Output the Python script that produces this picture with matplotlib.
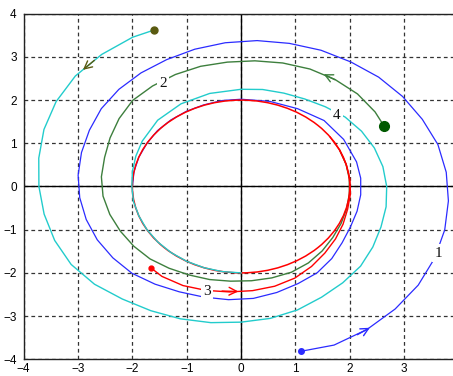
import matplotlib
matplotlib.use('Agg')
import numpy as np
import matplotlib.pyplot as plt
from matplotlib.patches import Circle

t1 = [-74, -65, -55, -45, -35, -25, -15, -5, 5, 15, 25, 35, 45, 55, 65, 75, 85, 95, 105, 115,
      125, 135, 145, 155, 165, 175, 185, 195, 205, 215, 225, 235, 245, 255, 265, 275, 285, 295,
      305, 315, 325, 335, 345, 355, 365, 375, 390, 405, 420, 435, 450, 460, 470, 480, 490, 500,
      510, 520, 530, 540]
r1 = [3.97, 4.05, 4.04, 4.01, 3.98, 3.93, 3.88, 3.83, 3.79, 3.75, 3.68, 3.63, 3.58, 3.52, 3.48,
      3.43, 3.39, 3.34, 3.29, 3.24, 3.21, 3.18, 3.14, 3.08, 3.04, 3.01, 2.98, 2.95, 2.92, 2.88,
      2.84, 2.76, 2.69, 2.65, 2.63, 2.60, 2.54, 2.48, 2.44, 2.36, 2.27, 2.22, 2.21, 2.21, 2.21,
      2.20, 2.18, 2.16, 2.08, 2.04, 2.02, 2.02, 2.01, 2.01, 2.01, 2.01, 2.00, 2.00, 2.00, 2.00]

t2 = [28, 35, 45, 55, 65, 75, 85, 95, 105, 115, 125, 135, 145, 155, 165, 175, 185, 195, 205,
      215, 225, 235, 245, 255, 265, 275, 285, 295, 305, 315, 325, 335, 345, 355, 365, 375, 385]
r2 = [2.98, 3.01, 3.03, 3.02, 3.00, 2.96, 2.92, 2.89, 2.88, 2.86, 2.84, 2.82, 2.74, 2.66, 2.60,
      2.58, 2.55, 2.50, 2.45, 2.41, 2.37, 2.31, 2.26, 2.23, 2.20, 2.19, 2.19, 2.19, 2.16, 2.11,
      2.06, 2.03, 2.01, 2.00, 2.00, 2.00, 2.00]

t3 = [228.6, 235, 245, 255, 265, 275, 285, 295, 305, 315, 325, 335, 345, 355, 365, 375, 385, 395]
r3 = [2.51, 2.54, 2.53, 2.49, 2.45, 2.42, 2.39, 2.34, 2.26, 2.18, 2.12, 2.07, 2.03, 2.02, 2.01,
      2.00, 2.00, 2.00]

t4 = [114, 120, 130, 140, 150, 160, 170, 180, 190, 200, 210, 220, 230, 240, 250, 260, 270, 280,
      290, 300, 310, 320, 330, 340, 350, 360, 370, 380, 390, 400, 410, 420, 430, 440, 450, 465,
      480, 495, 510, 520, 530, 540, 550, 560, 570, 580, 590, 600, 610, 620, 630]
r4 = [3.96, 3.99, 3.99, 3.98, 3.93, 3.86, 3.78, 3.72, 3.68, 3.65, 3.61, 3.52, 3.40, 3.32, 3.26,
      3.20, 3.14, 3.10, 3.04, 2.96, 2.91, 2.87, 2.80, 2.74, 2.71, 2.68, 2.65, 2.61, 2.56, 2.50,
      2.41, 2.34, 2.30, 2.28, 2.25, 2.23, 2.21, 2.17, 2.10, 2.06, 2.03, 2.01, 2.01, 2.00, 2.00,
      2.00, 2.00, 2.00, 2.00, 2.00, 2.00]

limit_radius = 2.0

# arrow (tail, head) positions
arrows = [((2.14, -3.43), (2.37, -3.27)),
          ((1.73, 2.47), (1.52, 2.60)),
          ((-0.35, -2.42), (-0.05, -2.43)),
          ((-2.70, 2.92), (-2.91, 2.70))]

labels = ['1', '2', '3', '4']
label_x = [3.63, -1.43, -0.63, 1.76]
label_y = [-1.54, 2.39, -2.42, 1.65]

c_blue = '#2b2bff'
c_green = '#3d7f3d'
c_red = '#ff0000'
c_cyan = '#22cccc'
c_olive = '#5a5a10'


def xy(t, r):
    a = np.radians(t)
    r = np.asarray(r)
    return r * np.cos(a), r * np.sin(a)


x1, y1 = xy(t1, r1)
x2, y2 = xy(t2, r2)
x3, y3 = xy(t3, r3)
x4, y4 = xy(t4, r4)

fig = plt.figure(figsize=(4.53, 3.76), dpi=100)
ax = fig.add_axes([0.0523, 0.0444, 0.9477, 0.9192])

ax.plot(x1, y1, color=c_blue, linewidth=0.9, zorder=3)
ax.plot(x2, y2, color=c_green, linewidth=1.0, zorder=3)
ax.add_patch(Circle((0, 0), limit_radius, fill=False, edgecolor=c_red, linewidth=1.1, zorder=3.5))
ax.plot(x4, y4, color=c_cyan, linewidth=1.0, zorder=3.6)
ax.plot(x3, y3, color=c_red, linewidth=1.0, zorder=4)

# start points
ax.plot(x1[0], y1[0], 'o', color=c_blue, markersize=4, zorder=5)
ax.plot(x2[0], y2[0], 'o', color='#005a00', markersize=7, zorder=5)
ax.plot(x3[0], y3[0], 'o', color=c_red, markersize=3.5, zorder=5)
ax.plot(x4[0], y4[0], 'o', color=c_olive, markersize=5, zorder=5)

arrow_colors = [c_blue, c_green, c_red, c_olive]
for (tail, head), col in zip(arrows, arrow_colors):
    ax.annotate('', xy=head, xytext=tail,
                arrowprops=dict(arrowstyle='->', color=col, lw=1.0,
                                mutation_scale=14, shrinkA=0, shrinkB=0),
                zorder=5)

for t, lx, ly in zip(labels, label_x, label_y):
    ax.text(lx, ly, t, fontsize=11, family='Liberation Serif', ha='center', va='center',
            color='#111111', zorder=6,
            bbox=dict(facecolor='white', edgecolor='none', pad=1.5))

ax.axhline(0, color='black', linewidth=1.0, zorder=2)
ax.axvline(0, color='black', linewidth=1.0, zorder=2)

ax.set_xlim(-4, 3.9)
ax.set_ylim(-4, 4)
ax.set_xticks(range(-4, 4))
ax.set_yticks(range(-4, 5))
ax.grid(True, color='#333333', linestyle=(0, (3, 2.5)), linewidth=0.9)
ax.tick_params(length=0, labelsize=8.5)
ax.tick_params(axis='x', pad=3)
ax.tick_params(axis='y', pad=5)
for lab in ax.get_xticklabels() + ax.get_yticklabels():
    lab.set_family('Liberation Sans')
for s in ['left', 'top', 'bottom']:
    ax.spines[s].set_color('#222222')
    ax.spines[s].set_linewidth(1.0)
ax.spines['right'].set_visible(False)

fig.savefig('out.png', dpi=100)
